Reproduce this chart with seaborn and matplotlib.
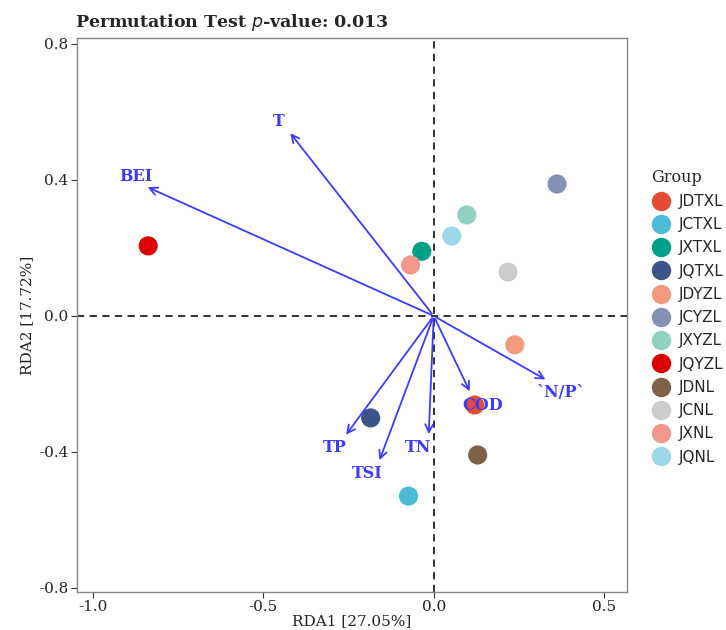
import matplotlib
matplotlib.use("Agg")
import matplotlib.pyplot as plt
import seaborn as sns
import pandas as pd

groups = ["JDTXL", "JCTXL", "JXTXL", "JQTXL", "JDYZL", "JCYZL",
          "JXYZL", "JQYZL", "JDNL", "JCNL", "JXNL", "JQNL"]
rda1 = [0.120, -0.074, -0.035, -0.185, 0.238, 0.362,
        0.097, -0.838, 0.129, 0.218, -0.068, 0.053]
rda2 = [-0.262, -0.530, 0.190, -0.300, -0.085, 0.388,
        0.297, 0.206, -0.409, 0.129, 0.150, 0.235]
colors = ["#E64B35", "#4DBBD5", "#00A087", "#3C5488", "#F39B7F", "#8491B4",
          "#91D1C2", "#DC0000", "#7E6148", "#CCCCCC", "#F0988C", "#9ED8E8"]

env_vars = ["T", "BEI", "TP", "TSI", "TN", "COD", "`N/P`"]
env_x = [-0.426, -0.847, -0.262, -0.162, -0.015, 0.109, 0.335]
env_y = [0.544, 0.382, -0.356, -0.432, -0.356, -0.229, -0.191]
lab_x = [-0.456, -0.874, -0.291, -0.194, -0.047, 0.144, 0.374]
lab_y = [0.571, 0.410, -0.388, -0.462, -0.388, -0.262, -0.224]

df = pd.DataFrame({"RDA1": rda1, "RDA2": rda2, "Group": groups})

sns.set_style("white")
plt.rcParams["font.family"] = ["DejaVu Serif"]

fig = plt.figure(figsize=(7.26, 6.3), dpi=100)
ax = fig.add_axes([0.106, 0.0603, 0.758, 0.8797])

ax.axhline(0, color="#222222", ls=(0, (4, 3)), lw=1.3, zorder=1)
ax.axvline(0, color="#222222", ls=(0, (4, 3)), lw=1.3, zorder=1)

sns.scatterplot(data=df, x="RDA1", y="RDA2", hue="Group", hue_order=groups,
                palette=colors, s=190, edgecolor="none", ax=ax, zorder=3,
                legend=False)

arrow_c = "#3B3BFF"
for v, x, y, lx, ly in zip(env_vars, env_x, env_y, lab_x, lab_y):
    ax.annotate("", xy=(x, y), xytext=(0, 0),
                arrowprops=dict(arrowstyle="->", color=arrow_c, lw=1.3,
                                mutation_scale=14), zorder=4)
    ax.text(lx, ly, v, color=arrow_c, fontsize=11.5, fontweight="bold",
            ha="center", va="center", zorder=5)

ax.set_xlim(-1.047, 0.568)
ax.set_ylim(-0.812, 0.818)
ax.set_xticks([-1.0, -0.5, 0.0, 0.5])
ax.set_yticks([-0.8, -0.4, 0.0, 0.4, 0.8])
ax.set_xticklabels(["-1.0", "-0.5", "0.0", "0.5"])
ax.set_yticklabels(["-0.8", "-0.4", "0.0", "0.4", "0.8"])
ax.tick_params(axis="both", length=4, width=0.8, color="#333333",
               labelsize=11, labelcolor="#222222", direction="out",
               left=True, bottom=True, pad=2)
for sp in ax.spines.values():
    sp.set_color("#888888")
    sp.set_linewidth(1.0)

ax.set_xlabel("RDA1 [27.05%]", fontsize=11, color="#222222", labelpad=0)
ax.set_ylabel("RDA2 [17.72%]", fontsize=11, color="#222222", labelpad=4)
ax.set_title("Permutation Test $\\mathit{p}$-value: 0.013", fontsize=12.5,
             fontweight="bold", loc="left", x=-0.003, pad=8)

handles = [plt.Line2D([], [], marker="o", ls="none", markersize=14,
                      markerfacecolor=c, markeredgecolor="none")
           for c in colors]
leg = fig.legend(handles, groups, loc="upper left",
                 bbox_to_anchor=(0.889, 0.742), frameon=False,
                 title="Group", handletextpad=0.6, labelspacing=0.54,
                 prop={"family": "DejaVu Sans", "size": 11},
                 borderaxespad=0, handlelength=1.2)
leg.get_title().set_fontsize(11.5)
leg.get_title().set_family("DejaVu Serif")
leg._legend_box.align = "left"

fig.savefig("out.png", dpi=100)
